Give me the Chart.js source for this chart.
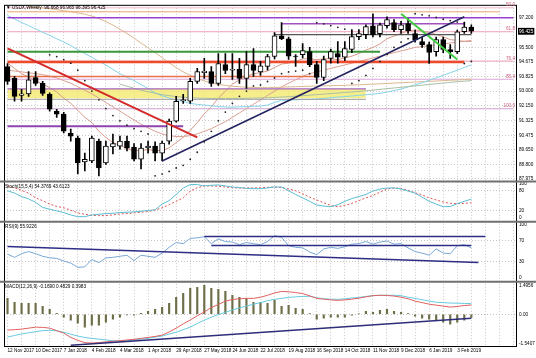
<!DOCTYPE html>
<html>
<head>
<meta charset="utf-8">
<script src="https://cdn.jsdelivr.net/npm/chart.js@4.4.1/dist/chart.umd.min.js"></script>
<style>
html, body { margin: 0; padding: 0; background: #fff; }
#wrap { width: 536px; height: 358px; }
</style>
</head>
<body>
<div id="wrap"><canvas id="c" width="536" height="358"></canvas></div>
<script>
// weekly bars, 12 Nov 2017 .. 17 Feb 2019, plus empty weeks for the chart shift
var weeks = ['12 Nov 2017','19 Nov 2017','26 Nov 2017','3 Dec 2017','10 Dec 2017','17 Dec 2017','24 Dec 2017','31 Dec 2017',
 '7 Jan 2018','14 Jan 2018','21 Jan 2018','28 Jan 2018','4 Feb 2018','11 Feb 2018','18 Feb 2018','25 Feb 2018',
 '4 Mar 2018','11 Mar 2018','18 Mar 2018','25 Mar 2018','1 Apr 2018','8 Apr 2018','15 Apr 2018','22 Apr 2018',
 '29 Apr 2018','6 May 2018','13 May 2018','20 May 2018','27 May 2018','3 Jun 2018','10 Jun 2018','17 Jun 2018',
 '24 Jun 2018','1 Jul 2018','8 Jul 2018','15 Jul 2018','22 Jul 2018','29 Jul 2018','5 Aug 2018','12 Aug 2018',
 '19 Aug 2018','26 Aug 2018','2 Sep 2018','9 Sep 2018','16 Sep 2018','23 Sep 2018','30 Sep 2018','7 Oct 2018',
 '14 Oct 2018','21 Oct 2018','28 Oct 2018','4 Nov 2018','11 Nov 2018','18 Nov 2018','25 Nov 2018','2 Dec 2018',
 '9 Dec 2018','16 Dec 2018','23 Dec 2018','30 Dec 2018','6 Jan 2019','13 Jan 2019','20 Jan 2019','27 Jan 2019',
 '3 Feb 2019','10 Feb 2019','17 Feb 2019','24 Feb 2019','3 Mar 2019','10 Mar 2019','17 Mar 2019','24 Mar 2019','31 Mar 2019'];

var opens  = [94.41,93.73,92.75,92.84,93.78,93.44,92.81,91.85,91.68,90.60,90.31,88.95,89.00,90.14,88.89,89.80,
  89.85,90.14,89.80,89.11,89.75,89.85,89.45,90.14,91.28,92.45,92.42,93.56,94.05,94.12,93.44,94.52,
  94.20,94.24,93.73,94.52,94.10,94.41,94.98,96.17,96.00,95.00,95.09,95.26,94.52,93.78,94.87,95.15,
  94.95,95.38,96.12,96.23,96.74,96.29,96.74,96.92,96.52,96.86,96.29,95.83,95.66,95.26,95.95,95.38,
  95.26,96.40,96.668];
var highs  = [94.58,93.84,93.10,94.12,94.12,93.56,92.90,91.96,91.79,90.82,90.42,89.45,90.42,90.25,90.14,90.54,
  90.42,90.42,90.00,90.00,90.14,90.10,90.14,91.40,92.70,92.81,93.73,94.30,94.87,94.40,95.15,95.15,
  95.15,94.87,95.26,95.43,94.70,95.10,96.35,96.92,96.10,95.09,95.72,95.50,94.70,95.00,95.40,95.83,
  95.83,96.52,96.52,96.80,97.43,96.90,97.25,97.10,97.00,97.15,96.50,96.10,95.80,96.10,96.10,95.66,
  96.50,96.95,96.80];
var lows   = [93.38,92.42,92.42,92.70,93.33,92.76,91.85,91.50,90.60,90.14,88.26,88.43,88.90,88.15,88.80,89.40,
  89.68,89.57,89.00,88.54,89.45,89.00,89.00,89.97,91.22,92.30,92.30,93.44,93.73,93.27,93.33,94.00,
  93.67,93.44,93.15,93.84,93.90,94.20,94.85,95.95,94.81,94.41,94.90,94.40,93.44,93.60,94.60,94.60,
  94.75,95.20,95.95,96.00,96.10,96.10,96.60,96.40,96.30,96.30,95.80,95.50,94.58,95.00,95.20,94.87,
  95.15,96.30,96.30];
var closes = [93.56,92.70,92.85,93.64,93.44,92.87,91.96,91.68,90.71,90.42,88.89,89.10,90.31,88.60,89.85,90.00,
  90.14,89.74,89.11,89.74,89.85,89.45,90.02,91.28,92.42,92.50,93.56,94.12,94.15,93.44,94.58,94.18,
  94.25,93.73,94.52,94.18,94.45,94.98,96.17,96.00,95.00,94.98,95.32,94.52,93.78,94.81,95.26,94.95,
  95.43,96.12,96.29,96.69,96.23,96.80,97.09,96.52,96.80,96.46,95.95,95.66,95.21,95.95,95.38,95.26,
  96.40,96.66,96.425];

// moving averages
var maFast = [94.6,94.3,94.0,93.8,93.6,93.4,93.2,92.95,92.6,92.3,91.9,91.5,91.2,90.7,90.35,90.05,
  89.9,89.7,89.6,89.6,89.65,89.6,89.6,89.75,90.05,90.35,90.75,91.2,91.7,92.1,92.6,93.0,
  93.4,93.65,93.85,94.0,94.05,94.15,94.35,94.55,94.6,94.7,94.85,94.85,94.8,94.85,94.85,94.8,
  94.9,95.0,95.15,95.35,95.5,95.7,96.0,96.15,96.3,96.45,96.5,96.45,96.35,96.25,96.1,95.95,
  95.9,95.85,95.85];
var maMid = [94.2,94.15,94.1,94.05,94.0,93.95,93.85,93.75,93.6,93.45,93.25,93.05,92.85,92.6,92.35,92.1,
  91.85,91.6,91.35,91.1,90.9,90.7,90.55,90.45,90.4,90.4,90.45,90.55,90.7,90.85,91.05,91.25,
  91.5,91.75,92.0,92.25,92.5,92.75,93.0,93.25,93.45,93.65,93.85,94.0,94.1,94.2,94.3,94.4,
  94.5,94.6,94.7,94.8,94.9,95.0,95.1,95.2,95.3,95.4,95.5,95.55,95.6,95.65,95.7,95.75,
  95.8,95.85,95.9];
var maSlow = [null,null,null,97.85,97.8,97.76,97.72,97.67,97.6,97.55,97.48,97.4,97.3,97.15,96.98,96.78,
  96.55,96.3,96.03,95.75,95.48,95.2,94.92,94.62,94.35,94.1,93.9,93.72,93.58,93.47,93.38,93.33,
  93.28,93.25,93.22,93.21,93.2,93.2,93.21,93.22,93.24,93.25,93.27,93.28,93.29,93.3,93.31,93.32,
  93.33,93.35,93.36,93.38,93.4,93.42,93.44,93.46,93.48,93.5,93.52,93.54,93.56,93.58,93.6,93.62,
  93.64,93.66,93.68];
var maCyan = [97.33,97.12,96.93,96.75,96.56,96.37,96.19,96.0,95.81,95.6,95.38,95.15,94.94,94.7,94.5,94.24,
  94.0,93.8,93.6,93.38,93.15,92.9,92.73,92.6,92.5,92.4,92.3,92.24,92.2,92.16,92.12,92.09,
  92.08,92.1,92.12,92.13,92.14,92.2,92.35,92.47,92.49,92.5,92.52,92.53,92.55,92.58,92.62,92.66,
  92.69,92.72,92.76,92.79,92.83,92.87,92.95,93.03,93.12,93.24,93.36,93.48,93.62,93.76,93.9,94.05,
  94.2,94.35,94.5];
var maLong = [null,null,null,null,null,null,null,null,null,null,null,null,null,null,null,null,
  93.4,93.28,93.16,93.06,92.96,92.88,92.8,92.74,92.69,92.65,92.62,92.6,92.59,92.58,92.58,92.58,
  92.58,92.58,92.59,92.6,92.61,92.62,92.64,92.66,92.68,92.71,92.74,92.77,92.8,92.83,92.86,92.89,
  92.92,92.95,92.98,93.02,93.06,93.1,93.14,93.18,93.22,93.26,93.3,93.34,93.38,93.42,93.46,93.5,
  93.54,93.57,93.6];
var sar = [null,null,null,null,null,null,95.08,94.98,94.8,94.6,94.2,93.6,93.0,92.5,92.0,91.6,
  91.3,91.05,90.85,90.7,90.55,88.15,88.25,88.4,88.6,88.75,89.1,89.5,90.1,90.7,91.3,91.8,
  92.3,92.7,93.0,93.3,93.35,93.55,93.75,94.0,94.1,94.15,94.2,94.0,96.92,96.85,96.75,96.65,
  96.55,93.44,93.6,93.9,94.3,94.7,95.1,95.5,95.8,96.0,97.43,97.37,97.31,97.22,97.12,97.03,
  96.95,94.58,94.7];

var stochMain = [79,72,62,55,45,30,25,20,15,8,3,3,8,10,12,13,15,16,17,19,21,23,40,50,68,87,97,97,93,95,
  96,93,90,88,86,85,85,87,90,90,79,68,58,48,37,34,32,38,48,56,62,68,78,84,87,87,84,78,72,60,
  48,40,32,33,41,48,54.38];
var stochSignal = [93,88,80,72,58,50,40,33,29,22,14,10,7,6,6,8,11,12,14,16,18,22,29,38,48,58,78,88,93,93,
  92,90,88,87,87,87,88,89,90,88,84,79,70,60,52,44,36,32,36,42,50,58,65,75,84,87,86,80,73,67,
  58,52,46,42,41,42,43.61];
var rsi = [44,38,45,49,45,40,37,36,31,27,19,20,34,28,37,38,40,42,32,42,40,38,46,57,66,64,74,75,77,64,
  73,68,67,62,66,64,62,68,79,76,60,57,56,48,43,54,57,55,58,63,64,68,63,67,69,63,64,56,49,46,
  42,54,46,45,60,62,55.92];
var macdMain = [-0.82,-0.80,-0.77,-0.72,-0.67,-0.68,-0.72,-0.85,-0.98,-1.20,-1.35,-1.47,-1.49,-1.47,-1.43,-1.40,
  -1.37,-1.33,-1.30,-1.25,-1.20,-1.15,-1.08,-0.92,-0.72,-0.50,-0.30,-0.08,0.12,0.35,0.50,0.68,
  0.76,0.80,0.82,0.82,0.88,0.98,1.10,1.18,1.16,1.12,1.07,0.95,0.82,0.78,0.74,0.72,
  0.74,0.78,0.83,0.90,0.96,0.98,0.97,0.94,0.88,0.80,0.68,0.60,0.52,0.47,0.42,0.37,0.40,0.45,0.48];
var macdSignal = [-1.18,-1.10,-1.02,-0.96,-0.90,-0.85,-0.83,-0.86,-0.93,-1.03,-1.13,-1.20,-1.25,-1.29,-1.33,-1.37,
  -1.39,-1.38,-1.33,-1.29,-1.25,-1.18,-1.13,-1.03,-0.93,-0.80,-0.67,-0.48,-0.31,-0.15,-0.02,0.10,
  0.22,0.33,0.42,0.52,0.60,0.70,0.77,0.82,0.87,0.90,0.92,0.93,0.85,0.80,0.78,0.77,
  0.80,0.84,0.87,0.92,0.96,0.98,0.98,0.98,0.96,0.88,0.82,0.75,0.68,0.62,0.60,0.58,0.57,0.56,0.55];
var macdHist = [0.82,0.62,0.57,0.57,0.57,0.41,0.26,0.05,-0.15,-0.31,-0.46,-0.67,-0.57,-0.57,-0.41,-0.26,
  -0.15,-0.03,-0.05,0.05,0.15,0.26,0.36,0.57,0.87,1.08,1.34,1.39,1.49,1.34,1.29,1.18,
  0.98,0.87,0.82,0.62,0.62,0.57,0.72,0.41,0.46,0.31,0.26,0.03,-0.26,-0.21,-0.15,-0.15,
  -0.15,-0.05,0.02,0.15,0.10,0.20,0.26,0.15,0.10,0.03,-0.10,-0.20,-0.26,-0.31,-0.41,-0.51,-0.41,-0.31,-0.17];

// axis labels
var lastClose = 96.425;
var priceTicks = [97.2, 96.425, 95.5, 94.675, 93.825, 93.0, 92.15, 91.325, 90.475, 89.65, 88.8, 87.975];
var stochTicks = [100, 80, 20, 0];
var rsiTicks = [100, 70, 30, 0];
var macdTicks = [1.4956, 0, -1.5407];
var macdTickLabels = ['1.4956', '0.00', '-1.5407'];

// fibonacci levels and drawn objects (bar index, price)
var fibNames = ['50.0', '61.8', '76.4', '85.4', '100.0'];
var fibPrices = [97.77, 96.40, 94.72, 93.68, 91.99];
var bandTop = 93.13, bandBottom = 92.59;

var N = weeks.length;
function span(a, b, v) { var d = new Array(N).fill(null); for (var i = a; i <= b; i++) d[i] = v; return d; }
function seg(a, va, b, vb) { var d = new Array(N).fill(null); d[a] = va; d[b] = vb; return d; }

var FONT = { family: 'Liberation Sans', size: 4.7 };

function hline(data, color, width, order) {
  return { type: 'line', data: data, yAxisID: 'y', borderColor: color, borderWidth: width,
    pointRadius: 0, spanGaps: true, fill: false, order: order };
}
function curve(data, color, axis, order, dash) {
  return { type: 'line', data: data, yAxisID: axis, borderColor: color, borderWidth: 1, borderDash: dash || [],
    pointRadius: 0, spanGaps: false, tension: 0, fill: false, order: order };
}

var datasets = [
  // yellow zone
  { type: 'line', data: span(0, 51, bandTop), yAxisID: 'y', borderWidth: 0, borderColor: 'rgba(0,0,0,0)',
    backgroundColor: 'rgba(243,234,110,0.8)', pointRadius: 0, fill: { value: bandBottom }, order: 30 },
  // fib lines
  hline(span(0, 72, fibPrices[0]), '#f2b6c6', 1, 28),
  hline(span(0, 72, fibPrices[1]), '#ef9fb6', 1, 28),
  hline(span(0, 72, fibPrices[2]), '#ef9fb6', 1, 28),
  hline(span(0, 72, fibPrices[3]), '#d9a4d8', 1, 28),
  hline(span(0, 72, fibPrices[4]), '#c9a0cf', 1, 28),
  // moving averages
  curve(maLong, '#a9bfa4', 'y', 26),
  curve(maCyan, '#86d3e8', 'y', 26),
  curve(maSlow, '#dcb78f', 'y', 26),
  curve(maMid, '#dca094', 'y', 26),
  curve(maFast, '#d89a8a', 'y', 26),
  // horizontal levels
  hline(span(0, 70, 97.54), '#eba469', 1, 20),
  hline(span(0, 72, 97.2), '#9a3fd0', 1.5, 20),
  hline(span(39, 65, 96.86), '#a050c0', 1.5, 20),
  hline(span(38, 66, 96.23), '#555555', 1.2, 20),
  hline(span(0, 53, 95.25), '#3a963a', 2, 20),
  hline(span(0, 65, 94.66), '#ee4b2b', 2.5, 20),
  hline(span(0, 44, 93.84), '#e8704e', 1.5, 20),
  hline(span(0, 51, 93.13), '#a466c4', 1.2, 20),
  hline(span(0, 51, 92.53), '#9c9c9c', 1, 20),
  hline(span(0, 25, 90.99), '#8e44b0', 2, 20),
  // candles
  { type: 'bar', data: lows.map(function (l, i) { return [l, highs[i]]; }), yAxisID: 'y',
    backgroundColor: '#000', borderWidth: 0, barThickness: 1, grouped: false, order: 16 },
  { type: 'bar', data: opens.map(function (o, i) { return [o, closes[i]]; }), yAxisID: 'y',
    backgroundColor: function (c) { return c.raw && c.raw[1] >= c.raw[0] ? '#fff' : '#000'; },
    borderColor: '#000', borderWidth: 1, borderSkipped: false, barThickness: 5, grouped: false, order: 15 },
  // trend lines
  hline(seg(0, 95.45, 27, 90.35), '#d42a2a', 2, 10),
  hline(seg(22, 89.0, 65, 97.26), '#23235f', 1.5, 10),
  hline(seg(56, 97.43, 64, 94.81), '#41cc41', 2, 10),
  // parabolic SAR
  { type: 'line', data: sar, yAxisID: 'y', showLine: false, pointRadius: 0.9, pointBorderWidth: 0,
    pointBackgroundColor: '#222', order: 5 },
  // stochastic
  curve(stochMain, '#5bbdd3', 'ys', 5),
  curve(stochSignal, '#e05454', 'ys', 5, [2, 2]),
  // rsi
  curve(rsi, '#79a9d6', 'yr', 5),
  { type: 'line', data: seg(0, 58.5, 67, 28.3), yAxisID: 'yr', borderColor: '#2d2d86', borderWidth: 1.5, pointRadius: 0, spanGaps: true, order: 4 },
  { type: 'line', data: span(28, 68, 77.4), yAxisID: 'yr', borderColor: '#2d2d86', borderWidth: 1.5, pointRadius: 0, order: 4 },
  { type: 'line', data: span(29, 66, 60.4), yAxisID: 'yr', borderColor: '#2d2d86', borderWidth: 1.5, pointRadius: 0, order: 4 },
  // macd
  { type: 'bar', data: macdHist, yAxisID: 'ym', backgroundColor: '#6e6e48', borderWidth: 0, barThickness: 1.5, grouped: false, order: 7 },
  curve(macdMain, '#e06060', 'ym', 5),
  curve(macdSignal, '#66cbe0', 'ym', 5),
  { type: 'line', data: seg(9, -1.6, 66, -0.21), yAxisID: 'ym', borderColor: '#2d2d7a', borderWidth: 1.5, pointRadius: 0, spanGaps: true, order: 4 }
];

function fixedTicks(list) { return function (s) { s.ticks = list.map(function (v) { return { value: v }; }); }; }
function levelGrid(list) {
  return function (c) { return c.tick && list.indexOf(c.tick.value) >= 0 ? '#c4c4c4' : 'rgba(0,0,0,0)'; };
}
function yAxis(weight, min, max, ticks, gridFn, fmt) {
  return {
    type: 'linear', position: 'right', stack: 'pane', stackWeight: weight, min: min, max: max,
    afterBuildTicks: fixedTicks(ticks),
    afterFit: function (s) { s.width = 19; },
    grid: { color: gridFn, drawTicks: false, lineWidth: 1 },
    border: { display: false, dash: [1, 2] },
    ticks: { font: FONT, color: '#000', padding: 2, autoSkip: false, callback: fmt }
  };
}

var mainAxis = yAxis(177.5, 87.833, 97.94, priceTicks,
  function (c) { return c.tick && c.tick.value === lastClose ? 'rgba(0,0,0,0)' : '#c8c8c8'; },
  function (v) { return v.toFixed(3); });
mainAxis.ticks.color = function (c) { return c.tick && c.tick.value === lastClose ? '#fff' : '#000'; };
mainAxis.ticks.showLabelBackdrop = function (c) { return !!(c.tick && c.tick.value === lastClose); };
mainAxis.ticks.backdropColor = '#000';
mainAxis.ticks.backdropPadding = { left: 1, right: 1, top: 0.6, bottom: 0.6 };

var paneDecor = {
  id: 'paneDecor',
  afterDraw: function (chart) {
    var ctx = chart.ctx, a = chart.chartArea, s = chart.scales;
    ctx.save();
    ctx.strokeStyle = '#000';
    ctx.lineWidth = 1;
    ctx.strokeRect(a.left + 0.5, a.top + 0.5, a.right - a.left - 1, a.bottom - a.top);
    ctx.strokeStyle = '#707070';
    ctx.lineWidth = 2;
    ['ys', 'yr', 'ym'].forEach(function (id) {
      ctx.beginPath(); ctx.moveTo(0, s[id].top); ctx.lineTo(chart.width, s[id].top); ctx.stroke();
    });
    ctx.font = '4.7px "Liberation Sans"';
    ctx.fillStyle = '#000';
    ctx.textBaseline = 'top';
    ctx.textAlign = 'left';
    ctx.fillText('\u25BC USDX,Weekly  96.668 96.965 96.395 96.425', a.left + 2, s.y.top + 1);
    ctx.fillText('Stoch(15,5,4) 54.3769 43.6123', a.left + 1, s.ys.top + 3);
    ctx.fillText('RSI(9) 55.9226', a.left + 1, s.yr.top + 2.5);
    ctx.fillText('MACD(12,26,9) -0.1690 0.4829 0.3983', a.left + 1, s.ym.top + 2.3);
    ctx.fillStyle = '#d0607e';
    ctx.textAlign = 'right';
    ctx.textBaseline = 'bottom';
    fibNames.forEach(function (n, i) {
      ctx.fillText(n, a.right - 2, s.y.getPixelForValue(fibPrices[i]) - 0.5);
    });
    ctx.restore();
  }
};

new Chart(document.getElementById('c'), {
  type: 'line',
  data: { labels: weeks, datasets: datasets },
  options: {
    responsive: false,
    animation: false,
    devicePixelRatio: 1,
    events: [],
    layout: { padding: { left: 1, top: 3, right: 0, bottom: 0 } },
    plugins: { legend: { display: false }, tooltip: { enabled: false } },
    scales: {
      x: {
        type: 'category', offset: true,
        grid: { offset: false, drawTicks: false, lineWidth: 1,
          color: function (c) { return c.index % 2 === 0 ? '#c8c8c8' : 'rgba(0,0,0,0)'; } },
        border: { display: false, dash: [1, 2] },
        afterFit: function (s) { s.height = 12; },
        ticks: { autoSkip: false, maxRotation: 0, minRotation: 0, align: 'start', padding: 2, font: FONT, color: '#000',
          callback: function (v, i) { return i % 4 === 0 && i < closes.length ? weeks[i] : ''; } }
      },
      y: mainAxis,
      ys: yAxis(40.5, -11.66, 106.4, stochTicks, levelGrid([80, 20]), function (v) { return String(v); }),
      yr: yAxis(60.5, -8.49, 105.66, rsiTicks, levelGrid([70, 30]), function (v) { return String(v); }),
      ym: yAxis(64.5, -1.6436, 1.6757, macdTicks, levelGrid([0]),
        function (v, i) { return macdTickLabels[i]; })
    }
  },
  plugins: [paneDecor]
});
</script>
</body>
</html>
